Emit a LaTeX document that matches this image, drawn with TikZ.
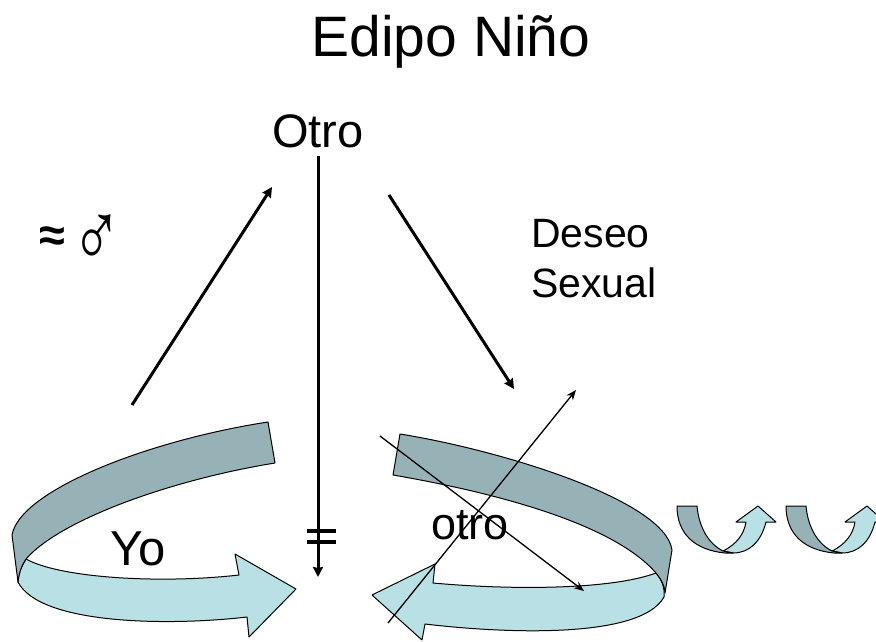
\documentclass[tikz,border=0pt]{standalone}
\usepackage{fontspec}
\setmainfont{Liberation Sans}
\usetikzlibrary{arrows.meta}
\definecolor{banddark}{HTML}{97B2B7}
\definecolor{bandlight}{HTML}{B9E0E4}
\tikzset{
  bandD/.style={draw=black,line width=1pt,fill=banddark,line join=round},
  bandL/.style={draw=black,line width=1pt,fill=bandlight,line join=round},
  heavy/.style={draw=black,line width=3pt,-{Stealth[length=10pt,width=10pt,inset=1pt]}},
  lightline/.style={draw=black,line width=1.3pt,-{Stealth[length=10pt,width=8pt]}},
  barline/.style={draw=black,line width=4.4pt},
  lbl/.style={inner sep=0pt,align=left,text=black},
  pics/minicurve/.style={code={
    \path[bandL] (58,45) .. controls (72,38) and (79,28) .. (81,16) -- (71,16) -- (93,0) -- (111,16) -- (101,16)
      .. controls (96,36) and (84,47) .. (68,47) -- cycle;
    \path[bandD] (12,0) -- (32,0) .. controls (34,22) and (44,38) .. (58,45) -- (68,47) -- (60,47)
      .. controls (30,44) and (12,28) .. (12,0) -- cycle;
  }}
}
\begin{document}
\begin{tikzpicture}[x=1pt,y=-1pt]
\useasboundingbox (0,0) rectangle (876,641);
% left curved arrow
\path[bandL] (26,559) .. controls (60,578) and (160,584) .. (239,575) -- (235,554) -- (296,589) -- (249,637) -- (247,617)
  .. controls (170,626) and (40,625) .. (18,582) .. controls (19,572) and (22,565) .. (26,559) -- cycle;
\path[bandD] (268,422) .. controls (150,440) and (20,490) .. (12,535) -- (18,582)
  .. controls (19,572) and (22,565) .. (26,559) .. controls (60,520) and (170,480) .. (275,463) -- cycle;
% right curved arrow
\path[bandL] (656,573) .. controls (610,590) and (510,590) .. (433,583) -- (435,564) -- (372,595) -- (422,640) -- (425,624)
  .. controls (500,633) and (640,640) .. (664,597) .. controls (665,588) and (662,580) .. (656,573) -- cycle;
\path[bandD] (400,434) .. controls (500,450) and (665,500) .. (672,550) -- (665,593)
  .. controls (665,586) and (661,579) .. (656,573) .. controls (610,520) and (480,490) .. (393,475) -- cycle;
% small arrows
\pic at (665,506) {minicurve};
\pic at (774,506) {minicurve};
% texts
\node[lbl,font=\fontsize{57}{62}\selectfont,anchor=center] (title) at (451,42) {Edipo Niño};
\node[lbl,font=\fontsize{47}{50}\selectfont,anchor=center] (otroTop) at (318,131) {Otro};
\node[lbl,font=\fontsize{41}{50}\selectfont,anchor=north west] (deseo) at (531,219) {Deseo\\Sexual};
\node[lbl,font=\fontsize{49}{50}\selectfont,anchor=center] (yo) at (138,549) {Yo};
\node[lbl,font=\fontsize{45}{50}\selectfont,anchor=center] (otroLow) at (470,525) {otro};
\node[lbl,font=\bfseries\fontsize{47}{50}\selectfont,anchor=center] (approx) at (52,239) {≈};
\node[lbl,font=\fontsize{52}{56}\selectfont,anchor=center,xscale=1.3,yscale=1.8] (male) at (96.6,241.5) {♂};
% connectors
\coordinate (vTop) at (318,156);
\coordinate (vEnd) at (318,577);
\coordinate (upS) at (132,405);
\coordinate (upE) at (272,187);
\coordinate (dnS) at (389,195);
\coordinate (dnE) at (514,389);
\coordinate (t1S) at (380,436);
\coordinate (t1E) at (584,591);
\coordinate (t2S) at (388,623);
\coordinate (t2E) at (576,390);
\coordinate (b1L) at (307,531);
\coordinate (b1R) at (336,531);
\coordinate (b2L) at (307,542);
\coordinate (b2R) at (336,542);
\draw[heavy] (vTop) -- (vEnd);
\draw[heavy] (upS) -- (upE);
\draw[heavy] (dnS) -- (dnE);
\draw[lightline] (t1S) -- (t1E);
\draw[lightline] (t2S) -- (t2E);
\draw[barline] (b1L) -- (b1R);
\draw[barline] (b2L) -- (b2R);
\end{tikzpicture}
\end{document}
